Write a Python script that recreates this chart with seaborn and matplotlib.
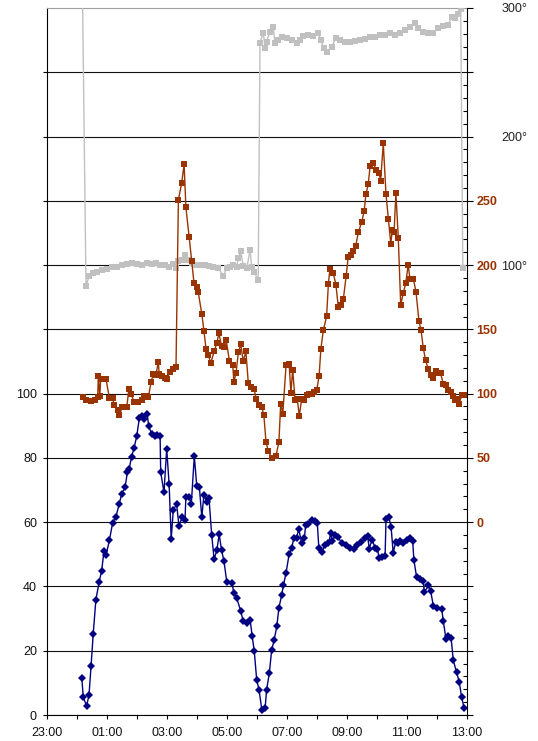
import matplotlib
matplotlib.use("Agg")
import matplotlib.pyplot as plt
from matplotlib.ticker import MultipleLocator
import seaborn as sns

# time axis = hours after 23:00
blue_t = [1.17, 1.22, 1.33, 1.41, 1.48, 1.55, 1.64, 1.75, 1.83, 1.91, 1.98, 2.09, 2.20, 2.31,
          2.42, 2.50, 2.61, 2.69, 2.75, 2.83, 2.91, 3.00, 3.09, 3.17, 3.24, 3.35, 3.40, 3.50,
          3.61, 3.69, 3.78, 3.80, 3.91, 4.00, 4.08, 4.15, 4.22, 4.33, 4.41, 4.51, 4.61, 4.64,
          4.75, 4.82, 4.92, 5.00, 5.09, 5.17, 5.24, 5.33, 5.41, 5.50, 5.58, 5.67, 5.75, 5.83,
          5.91, 6.00, 6.17, 6.24, 6.33, 6.47, 6.55, 6.67, 6.78, 6.85, 6.92, 7.00, 7.08, 7.17,
          7.28, 7.33, 7.42, 7.50, 7.58, 7.67, 7.74, 7.83, 7.89, 7.98, 8.08, 8.17, 8.24, 8.33,
          8.40, 8.50, 8.59, 8.63, 8.72, 8.83, 8.94, 9.02, 9.07, 9.17, 9.28, 9.39, 9.47, 9.52,
          9.61, 9.72, 9.83, 9.98, 10.11, 10.24, 10.35, 10.48, 10.61, 10.70, 10.75, 10.85, 10.94,
          11.02, 11.08, 11.17, 11.28, 11.31, 11.41, 11.48, 11.55, 11.63, 11.72, 11.78, 11.87,
          12.00, 12.11, 12.20, 12.24, 12.33, 12.44, 12.55, 12.59, 12.72, 12.80, 12.89, 13.00,
          13.17, 13.22, 13.31, 13.39, 13.48, 13.55, 13.66, 13.75, 13.83, 13.91]
blue_v = [11.5, 5.5, 2.8, 6.2, 15.4, 25.2, 35.9, 41.5, 44.8, 51.0, 49.8, 54.4, 59.9, 61.7,
          65.8, 68.8, 70.8, 75.5, 76.6, 80.4, 83.0, 86.7, 92.5, 92.9, 92.2, 93.8, 89.8, 87.5,
          86.7, 87.0, 86.9, 75.5, 69.3, 82.8, 71.9, 54.9, 63.8, 65.6, 58.8, 61.5, 60.7, 67.9,
          67.9, 65.6, 80.6, 71.4, 70.8, 61.5, 68.5, 66.3, 67.4, 56.0, 48.5, 51.2, 56.2, 51.2,
          47.9, 41.5, 41.2, 38.0, 36.5, 32.3, 29.2, 28.6, 29.7, 24.5, 19.8, 10.9, 7.8, 1.6,
          2.1, 7.8, 13.0, 20.3, 23.2, 27.6, 33.3, 37.2, 40.3, 44.3, 50.0, 52.1, 55.2, 55.0,
          58.0, 53.4, 55.0, 59.0, 59.4, 60.7, 60.4, 59.9, 52.1, 50.7, 52.9, 53.4, 56.5, 54.2,
          55.9, 55.4, 53.4, 52.9, 52.0, 51.8, 52.9, 53.9, 55.0, 55.6, 51.8, 54.6, 52.1,
          51.8, 49.0, 49.3, 49.5, 60.9, 61.5, 58.4, 50.5, 53.7, 53.5, 54.0, 53.5,
          54.6, 55.1, 54.0, 48.2, 42.9, 42.2, 41.7, 38.2, 40.3, 38.5, 33.9, 33.4,
          32.9, 29.2, 23.6, 24.5, 24.0, 17.2, 13.3, 10.4, 5.6, 2.3]

brown_t = [1.20, 1.31, 1.47, 1.61, 1.70, 1.72, 1.77, 1.80, 1.87, 1.98, 2.09, 2.20, 2.24, 2.39,
           2.42, 2.52, 2.67, 2.74, 2.81, 2.91, 3.05, 3.17, 3.24, 3.33, 3.39, 3.48, 3.55, 3.64,
           3.72, 3.75, 3.83, 3.94, 4.02, 4.11, 4.20, 4.31, 4.39, 4.50, 4.58, 4.64, 4.75, 4.83,
           4.91, 5.00, 5.05, 5.17, 5.24, 5.31, 5.39, 5.47, 5.58, 5.67, 5.74, 5.83, 5.91, 5.98,
           6.09, 6.20, 6.24, 6.31, 6.39, 6.47, 6.55, 6.64, 6.72, 6.80, 6.91, 6.98, 7.09, 7.17,
           7.24, 7.31, 7.39, 7.50, 7.64, 7.74, 7.80, 7.87, 7.98, 8.08, 8.14, 8.20, 8.28, 8.35,
           8.42, 8.50, 8.58, 8.67, 8.75, 8.83, 8.91, 9.00, 9.08, 9.14, 9.22, 9.33, 9.39, 9.44,
           9.55, 9.64, 9.72, 9.80, 9.89, 9.98, 10.05, 10.13, 10.22, 10.30, 10.39, 10.50, 10.58,
           10.64, 10.72, 10.78, 10.89, 10.98, 11.08, 11.13, 11.22, 11.31, 11.39, 11.47, 11.52,
           11.58, 11.64, 11.72, 11.80, 11.89, 11.97, 12.05, 12.11, 12.22, 12.31, 12.41, 12.48,
           12.55, 12.63, 12.72, 12.80, 12.89, 12.97, 13.05, 13.13, 13.22, 13.30, 13.39, 13.47,
           13.53, 13.61, 13.69, 13.75, 13.83, 13.90]
brown_v = [97.4, 94.8, 94.3, 94.8, 97.0, 113.5, 98.0, 111.5, 111.0, 111.0, 96.6, 96.6, 91.0, 87.1,
           83.2, 89.6, 89.6, 103.9, 100.0, 93.5, 93.5, 94.8, 98.2, 98.2, 97.4, 109.1, 115.1, 114.3,
           124.9, 115.0, 113.8, 112.5, 111.7, 117.1, 118.9, 121.0, 250.9, 263.8, 278.6, 244.9, 221.5, 203.4,
           186.0, 182.6, 179.0, 162.1, 149.1, 134.9, 129.7, 123.8, 132.8, 139.3, 147.1, 136.7, 135.9, 141.9,
           125.6, 122.5, 109.0, 116.0, 132.3, 138.5, 125.1, 132.8, 108.2, 104.9, 103.9, 96.1, 90.9, 89.8,
           83.0, 62.4, 55.1, 50.0, 51.3, 62.4, 92.2, 84.4, 122.5, 123.3, 100.8, 118.7, 94.8, 96.1,
           82.7, 96.1, 94.8, 98.7, 100.0, 100.0, 101.3, 102.6, 113.8, 135.0, 149.2, 160.1, 185.5, 196.7,
           194.1, 184.8, 167.4, 169.2, 173.9, 191.2, 206.3, 208.1, 210.7, 214.8, 225.7, 233.5, 241.8,
           255.0, 263.3, 277.1, 279.6, 273.6, 271.6, 265.4, 294.6, 255.0, 236.1, 216.6, 227.0,
           226.0, 256.0, 221.1, 169.2, 178.5, 186.3, 200.3, 188.9, 189.4, 179.1, 156.2, 149.2,
           135.8, 125.9, 118.9, 114.8, 112.2, 117.3, 116.0, 115.7, 107.8, 106.5, 102.6, 101.3,
           97.9, 94.8, 95.6, 92.2, 98.7, 99.0]

grey_t = [1.17, 1.31, 1.42, 1.53, 1.67, 1.83, 2.00, 2.17, 2.33, 2.50, 2.67, 2.83, 3.00, 3.17,
          3.33, 3.50, 3.64, 3.78, 3.94, 4.09, 4.20, 4.31, 4.39, 4.50, 4.61, 4.72, 4.83, 4.98,
          5.13, 5.28, 5.42, 5.55, 5.72, 5.89, 6.00, 6.11, 6.22, 6.33, 6.39, 6.47, 6.55, 6.67,
          6.78, 6.83, 6.91, 7.05, 7.11, 7.22, 7.28, 7.33, 7.44, 7.55, 7.61, 7.72, 7.83, 8.00,
          8.17, 8.33, 8.44, 8.55, 8.72, 8.89, 9.05, 9.13, 9.24, 9.35, 9.50, 9.64, 9.78, 9.94,
          10.11, 10.28, 10.44, 10.61, 10.78, 10.94, 11.11, 11.28, 11.44, 11.61, 11.78, 11.94,
          12.11, 12.28, 12.39, 12.55, 12.72, 12.89, 13.05, 13.22, 13.39, 13.50, 13.61, 13.72,
          13.80, 13.87]
grey_v = [355.0, 83.9, 91.7, 93.8, 94.6, 95.8, 96.9, 98.4, 98.9, 100.2, 101.0, 101.6, 101.0, 100.2,
          101.6, 101.0, 102.0, 100.2, 100.2, 98.9, 101.0, 97.7, 102.8, 104.1, 108.0, 104.1, 102.0, 100.2,
          100.2, 100.2, 99.5, 98.4, 97.7, 91.7, 97.7, 98.4, 100.2, 98.9, 105.4, 110.6, 99.5, 97.7,
          111.9, 98.9, 94.6, 88.6, 273.1, 280.9, 268.7, 273.9, 281.7, 285.0, 272.6, 275.2, 277.8, 276.5,
          275.2, 272.6, 275.2, 278.3, 279.1, 278.3, 280.4, 275.2, 268.7, 266.1, 270.0, 276.5, 275.2, 273.9,
          273.9, 274.7, 275.2, 276.0, 277.3, 277.8, 279.1, 279.1, 280.4, 279.1, 280.4, 283.0,
          285.0, 288.2, 284.3, 281.7, 280.9, 280.4, 284.3, 286.1, 286.9, 293.3, 292.0, 295.4,
          299.5, 98.0]

x_labels = ["23:00", "01:00", "03:00", "05:00", "07:00", "09:00", "11:00", "13:00"]
left_labels = [0, 20, 40, 60, 80, 100]
brown_labels = [0, 50, 100, 150, 200, 250]
deg_labels = [100, 200, 300]

NAVY = "#000080"
BROWN = "#993300"
GREY = "#c0c0c0"

sns.set_style("white")
plt.rcParams["font.family"] = ["Liberation Sans", "DejaVu Sans"]

W, H = 538, 741
fig = plt.figure(figsize=(W / 100, H / 100), dpi=100)
x0, x1, y0, y1 = 46.7, 466.7, 8, 715
ax = fig.add_axes([x0 / W, 1 - y1 / H, (x1 - x0) / W, (y1 - y0) / H])
ax_deg = ax.twinx()
ax_br = ax.twinx()

sns.lineplot(x=blue_t, y=blue_v, ax=ax, color=NAVY, linewidth=1, marker="D",
             markersize=4.2, markeredgewidth=0, estimator=None, sort=False)
sns.lineplot(x=grey_t, y=grey_v, ax=ax_deg, color=GREY, linewidth=1, marker="s",
             markersize=4.6, markeredgewidth=0, estimator=None, sort=False)
sns.lineplot(x=brown_t, y=brown_v, ax=ax_br, color=BROWN, linewidth=1, marker="s",
             markersize=3.8, markeredgewidth=0, estimator=None, sort=False)

# main (left) axis
ax.set_xlim(0, 14)
ax.set_ylim(0, 220)
ax.set_xticks(range(15))
ax.set_xticklabels([x_labels[i // 2] if i % 2 == 0 else "" for i in range(15)])
ax.set_yticks(range(0, 201, 20))
ax.set_yticklabels([str(v) if v in left_labels else "" for v in range(0, 201, 20)])
ax.tick_params(axis="both", direction="out", length=3, width=0.8, color="black",
               labelsize=9, labelcolor="#111111")
ax.tick_params(axis="x", pad=6, bottom=True)
ax.tick_params(axis="y", pad=4, left=True)
ax.yaxis.grid(True, color="#111111", linewidth=0.8)
ax.xaxis.grid(False)
ax.set_axisbelow(True)
for s in ["left", "bottom"]:
    ax.spines[s].set_color("black")
    ax.spines[s].set_linewidth(0.8)
ax.spines["top"].set_color("#a0a0a0")
ax.spines["top"].set_linewidth(0.8)
ax.spines["right"].set_visible(False)

# brown axis on the right spine
ax_br.set_ylim(-150, 400)
ax_br.set_yticks(range(-150, 401, 50))
ax_br.set_yticklabels([str(v) if v in brown_labels else "" for v in range(-150, 401, 50)])
ax_br.yaxis.set_minor_locator(MultipleLocator(10))
ax_br.tick_params(axis="y", which="major", direction="out", length=4, width=0.8,
                  color="black", pad=3, labelsize=9, labelcolor=BROWN, right=True)
ax_br.tick_params(axis="y", which="minor", direction="in", length=3, width=0.8,
                  color="black", right=True)
for lbl in ax_br.get_yticklabels():
    lbl.set_fontweight("bold")
for s in ["left", "top", "bottom"]:
    ax_br.spines[s].set_visible(False)
ax_br.spines["right"].set_color("black")
ax_br.spines["right"].set_linewidth(0.8)

# degree labels further right
ax_deg.set_ylim(-250, 300)
ax_deg.set_yticks(deg_labels)
ax_deg.set_yticklabels([f"{v}°" for v in deg_labels])
ax_deg.tick_params(axis="y", length=0, pad=25, labelsize=9, labelcolor="#222222")
for s in ax_deg.spines.values():
    s.set_visible(False)

for a in (ax, ax_br, ax_deg):
    a.set_xlabel("")
    a.set_ylabel("")

fig.savefig("out.png", dpi=100, facecolor="white")
